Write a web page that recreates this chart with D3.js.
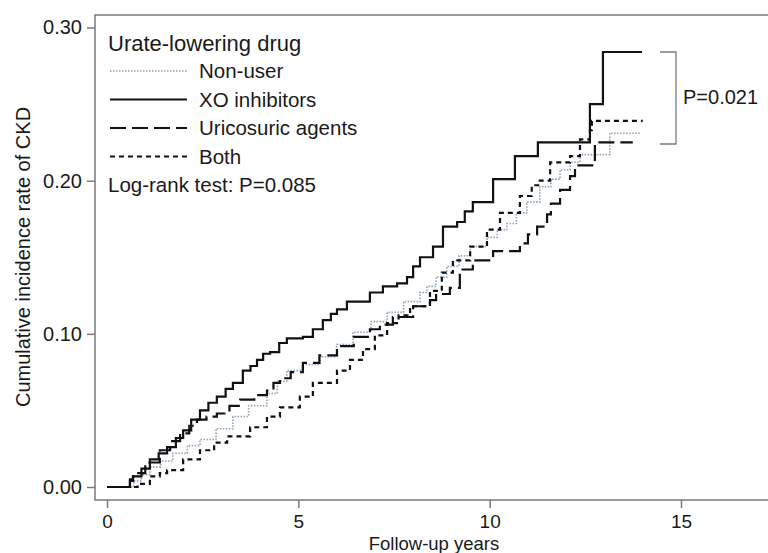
<!DOCTYPE html>
<html>
<head>
<meta charset="utf-8">
<script src="https://cdn.jsdelivr.net/npm/d3@7"></script>
<style>
  body { margin: 0; background: #fff; }
  text { font-family: "Liberation Sans", Arial, sans-serif; fill: #1a1a1a; }
</style>
</head>
<body>
<script>
// step points: [years, cumulative incidence]
var nonUser = [[0,0],[0.52,0],[0.7,0.004],[0.9,0.008],[1.12,0.013],[1.4,0.017],[1.72,0.022],[2.1,0.027],[2.43,0.031],[2.85,0.038],[3.29,0.046],[3.7,0.053],[4.18,0.061],[4.45,0.069],[4.7,0.076],[5.1,0.08],[5.57,0.085],[6.0,0.093],[6.43,0.101],[6.9,0.108],[7.32,0.114],[7.75,0.121],[8.18,0.127],[8.36,0.131],[8.6,0.137],[8.88,0.144],[9.2,0.151],[9.49,0.157],[9.93,0.163],[10.2,0.168],[10.45,0.172],[10.7,0.179],[10.97,0.186],[11.31,0.196],[11.6,0.201],[11.84,0.207],[12.1,0.212],[12.36,0.217],[13.14,0.231],[13.93,0.231]];
var xoInhib = [[0,0],[0.52,0],[0.6,0.004],[0.68,0.007],[0.9,0.012],[1.12,0.018],[1.35,0.022],[1.57,0.026],[1.8,0.032],[1.99,0.037],[2.2,0.044],[2.43,0.05],[2.65,0.055],[2.87,0.059],[3.1,0.064],[3.29,0.068],[3.55,0.076],[3.75,0.079],[3.92,0.083],[4.08,0.087],[4.26,0.088],[4.5,0.094],[4.7,0.097],[5.12,0.098],[5.38,0.103],[5.64,0.109],[5.85,0.113],[6.01,0.116],[6.27,0.121],[6.87,0.127],[7.21,0.131],[7.58,0.133],[7.84,0.137],[8.0,0.144],[8.18,0.15],[8.52,0.157],[8.78,0.17],[9.15,0.173],[9.35,0.18],[9.56,0.186],[10.09,0.201],[10.66,0.216],[11.26,0.225],[12.62,0.25],[12.96,0.284],[13.98,0.284]];
var uricosuric = [[0,0],[0.52,0],[0.6,0.005],[0.68,0.009],[1.0,0.016],[1.38,0.024],[1.65,0.03],[1.91,0.035],[2.15,0.04],[2.35,0.044],[2.6,0.046],[2.87,0.048],[3.2,0.053],[3.48,0.057],[3.85,0.06],[4.18,0.063],[4.35,0.068],[4.52,0.071],[4.8,0.075],[5.12,0.081],[5.55,0.086],[6.01,0.092],[6.45,0.098],[6.87,0.103],[7.13,0.106],[7.47,0.111],[8.0,0.118],[8.44,0.122],[8.6,0.126],[8.96,0.13],[9.22,0.142],[9.56,0.148],[10.09,0.154],[10.79,0.159],[11.0,0.165],[11.24,0.17],[11.5,0.178],[11.6,0.185],[11.84,0.194],[12.1,0.203],[12.23,0.21],[12.75,0.225],[13.74,0.225]];
var both = [[0,0],[0.55,0],[0.8,0.002],[1.12,0.007],[1.38,0.009],[1.57,0.011],[1.99,0.018],[2.43,0.024],[2.8,0.029],[3.14,0.033],[3.74,0.039],[4.18,0.046],[4.52,0.052],[5.04,0.059],[5.38,0.068],[6.01,0.076],[6.35,0.083],[6.69,0.09],[7.0,0.099],[7.32,0.107],[7.62,0.112],[7.92,0.118],[8.44,0.128],[8.75,0.14],[9.04,0.148],[9.49,0.157],[9.93,0.168],[10.27,0.179],[10.79,0.19],[11.1,0.197],[11.31,0.2],[11.58,0.212],[12.1,0.216],[12.36,0.227],[12.62,0.233],[12.67,0.239],[14.0,0.239]];

var seriesNames = ["Non-user", "XO inhibitors", "Uricosuric agents", "Both"];
var xTicks = [0, 5, 10, 15];
var yTicks = [0, 0.1, 0.2, 0.3];

var width = 768, height = 553;
var frame = {left: 95, top: 15, right: 773, bottom: 500};

var styles = [
  {color: "#8ea2b8", w: 1.6, dash: "1.5,1.5"},
  {color: "#111", w: 2.2, dash: null},
  {color: "#111", w: 2.2, dash: "16,6"},
  {color: "#111", w: 2.2, dash: "5,4"}
];
var allSeries = [nonUser, xoInhib, uricosuric, both];

var x = d3.scaleLinear().domain([0, 15]).range([107, 681]);
var y = d3.scaleLinear().domain([0, 0.3]).range([487, 27.5]);

var svg = d3.select("body").append("svg").attr("width", width).attr("height", height);

svg.append("rect")
  .attr("x", frame.left).attr("y", frame.top)
  .attr("width", frame.right - frame.left).attr("height", frame.bottom - frame.top)
  .attr("fill", "none").attr("stroke", "#7a7a7a").attr("stroke-width", 1.5);

var yAxis = svg.append("g").attr("transform", "translate(" + frame.left + ",0)")
  .call(d3.axisLeft(y).tickValues(yTicks).tickFormat(d3.format(".2f")).tickSize(8).tickPadding(5));
var xAxis = svg.append("g").attr("transform", "translate(0," + frame.bottom + ")")
  .call(d3.axisBottom(x).tickValues(xTicks).tickSize(8).tickPadding(7));
[xAxis, yAxis].forEach(function(a){
  a.select(".domain").remove();
  a.selectAll("line").attr("stroke", "#7a7a7a").attr("stroke-width", 1.5);
  a.selectAll("text").style("font-size", "20px").style("font-family", "'Liberation Sans', Arial, sans-serif").attr("fill", "#1a1a1a");
});
xAxis.selectAll("text").style("font-size", "19px");

var line = d3.line()
  .x(function(d){ return x(d[0]); })
  .y(function(d){ return y(d[1]); })
  .curve(d3.curveStepAfter);

allSeries.forEach(function(s, i){
  svg.append("path").datum(s)
    .attr("d", line)
    .attr("fill", "none")
    .attr("stroke", styles[i].color)
    .attr("stroke-width", styles[i].w)
    .attr("stroke-dasharray", styles[i].dash);
});

// legend
svg.append("text").attr("x", 108).attr("y", 51).style("font-size", "22px").text("Urate-lowering drug");
seriesNames.forEach(function(n, i){
  var yy = 78 + i * 28.5;
  svg.append("line")
    .attr("x1", 110).attr("x2", 187).attr("y1", yy - 7).attr("y2", yy - 7)
    .attr("stroke", styles[i].color).attr("stroke-width", styles[i].w)
    .attr("stroke-dasharray", styles[i].dash);
  svg.append("text").attr("x", 199).attr("y", yy).style("font-size", "20.5px").text(n);
});
svg.append("text").attr("x", 108).attr("y", 192).style("font-size", "20.5px").text("Log-rank test: P=0.085");

// bracket
svg.append("path")
  .attr("d", "M660,52H676V144H660")
  .attr("fill", "none").attr("stroke", "#7a7a7a").attr("stroke-width", 1.3);
svg.append("text").attr("x", 683).attr("y", 104).style("font-size", "20px").text("P=0.021");

// axis titles
svg.append("text").attr("x", 434).attr("y", 549.5).attr("text-anchor", "middle")
  .style("font-size", "18.5px").text("Follow-up years");
svg.append("text").attr("transform", "translate(30,257) rotate(-90)").attr("text-anchor", "middle")
  .style("font-size", "20px").text("Cumulative incidence rate of CKD");
</script>
</body>
</html>
